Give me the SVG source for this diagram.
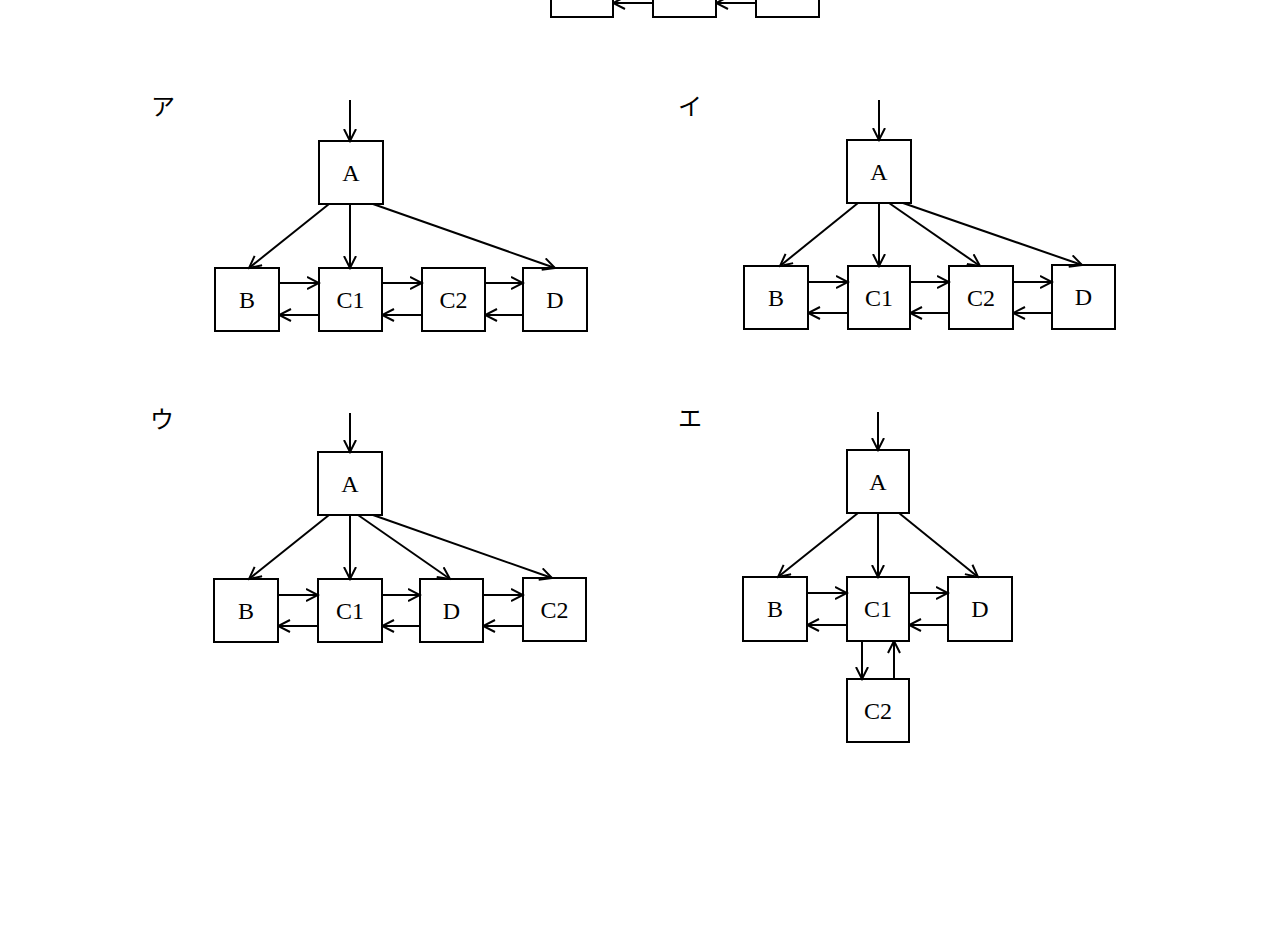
<svg xmlns="http://www.w3.org/2000/svg" width="1288" height="952" viewBox="0 0 1288 952">
<defs>
<style>
.box{fill:#fff;stroke:#000;stroke-width:2}
.lbl{font-family:"Liberation Serif","DejaVu Serif",serif;font-size:24px;text-anchor:middle;fill:#000}
.jp{font-family:"Noto Sans CJK JP",sans-serif;font-size:24px;fill:#000}
.cn line{stroke:#000;stroke-width:2;marker-end:url(#arr)}
</style>
<marker id="arr" markerWidth="14" markerHeight="14" refX="12.5" refY="7" orient="auto" markerUnits="userSpaceOnUse">
<path d="M0.5,1 L12.5,7 L0.5,13" fill="none" stroke="#000" stroke-width="2"/>
</marker>
</defs>
<rect width="1288" height="952" fill="#fff"/>

<!-- top partial row -->
<g id="top">
<rect class="box" x="551" y="-46" width="62" height="63"/>
<rect class="box" x="653" y="-46" width="63" height="63"/>
<rect class="box" x="756" y="-46" width="63" height="63"/>
</g>

<!-- labels -->
<text class="jp" x="151" y="115">ア</text>
<text class="jp" x="678" y="115">イ</text>
<text class="jp" x="150" y="428">ウ</text>
<text class="jp" x="678" y="427">エ</text>

<!-- ア -->
<g id="a-A"><rect class="box" x="319" y="141" width="64" height="63"/><text class="lbl" x="351" y="181">A</text></g>
<g id="a-B"><rect class="box" x="215" y="268" width="64" height="63"/><text class="lbl" x="247" y="308">B</text></g>
<g id="a-C1"><rect class="box" x="319" y="268" width="63" height="63"/><text class="lbl" x="350.5" y="308">C1</text></g>
<g id="a-C2"><rect class="box" x="422" y="268" width="63" height="63"/><text class="lbl" x="453.5" y="308">C2</text></g>
<g id="a-D"><rect class="box" x="523" y="268" width="64" height="63"/><text class="lbl" x="555" y="308">D</text></g>

<!-- イ -->
<g id="i-A"><rect class="box" x="847" y="140" width="64" height="63"/><text class="lbl" x="879" y="180">A</text></g>
<g id="i-B"><rect class="box" x="744" y="266" width="64" height="63"/><text class="lbl" x="776" y="306">B</text></g>
<g id="i-C1"><rect class="box" x="848" y="266" width="62" height="63"/><text class="lbl" x="879" y="306">C1</text></g>
<g id="i-C2"><rect class="box" x="949" y="266" width="64" height="63"/><text class="lbl" x="981" y="306">C2</text></g>
<g id="i-D"><rect class="box" x="1052" y="265" width="63" height="64"/><text class="lbl" x="1083.5" y="305">D</text></g>

<!-- ウ -->
<g id="u-A"><rect class="box" x="318" y="452" width="64" height="63"/><text class="lbl" x="350" y="492">A</text></g>
<g id="u-B"><rect class="box" x="214" y="579" width="64" height="63"/><text class="lbl" x="246" y="619">B</text></g>
<g id="u-C1"><rect class="box" x="318" y="579" width="64" height="63"/><text class="lbl" x="350" y="619">C1</text></g>
<g id="u-D"><rect class="box" x="420" y="579" width="63" height="63"/><text class="lbl" x="451.5" y="619">D</text></g>
<g id="u-C2"><rect class="box" x="523" y="578" width="63" height="63"/><text class="lbl" x="554.5" y="618">C2</text></g>

<!-- エ -->
<g id="e-A"><rect class="box" x="847" y="450" width="62" height="63"/><text class="lbl" x="878" y="490">A</text></g>
<g id="e-B"><rect class="box" x="743" y="577" width="64" height="64"/><text class="lbl" x="775" y="617">B</text></g>
<g id="e-C1"><rect class="box" x="847" y="577" width="62" height="64"/><text class="lbl" x="878" y="617">C1</text></g>
<g id="e-D"><rect class="box" x="948" y="577" width="64" height="64"/><text class="lbl" x="980" y="617">D</text></g>
<g id="e-C2"><rect class="box" x="847" y="679" width="62" height="63"/><text class="lbl" x="878" y="719">C2</text></g>

<g id="connectors" class="cn">
<!-- top -->
<line x1="653" y1="3" x2="613" y2="3"/>
<line x1="756" y1="3" x2="716" y2="3"/>
<!-- ア -->
<line x1="350" y1="100" x2="350" y2="141"/>
<line x1="329" y1="204" x2="249" y2="268"/>
<line x1="350" y1="204" x2="350" y2="268"/>
<line x1="373" y1="204" x2="555" y2="268"/>
<line x1="279" y1="283" x2="319" y2="283"/>
<line x1="382" y1="283" x2="422" y2="283"/>
<line x1="485" y1="283" x2="523" y2="283"/>
<line x1="319" y1="315" x2="279" y2="315"/>
<line x1="422" y1="315" x2="382" y2="315"/>
<line x1="523" y1="315" x2="485" y2="315"/>
<!-- イ -->
<line x1="879" y1="100" x2="879" y2="140"/>
<line x1="858" y1="203" x2="780" y2="266"/>
<line x1="879" y1="203" x2="879" y2="266"/>
<line x1="889" y1="203" x2="980" y2="266"/>
<line x1="903" y1="203" x2="1082" y2="265"/>
<line x1="808" y1="282" x2="848" y2="282"/>
<line x1="910" y1="282" x2="949" y2="282"/>
<line x1="1013" y1="282" x2="1052" y2="282"/>
<line x1="848" y1="313" x2="808" y2="313"/>
<line x1="949" y1="313" x2="910" y2="313"/>
<line x1="1052" y1="313" x2="1013" y2="313"/>
<!-- ウ -->
<line x1="350" y1="413" x2="350" y2="452"/>
<line x1="329" y1="515" x2="249" y2="579"/>
<line x1="350" y1="515" x2="350" y2="579"/>
<line x1="358" y1="515" x2="450" y2="579"/>
<line x1="373" y1="515" x2="552" y2="578"/>
<line x1="278" y1="595" x2="318" y2="595"/>
<line x1="382" y1="595" x2="420" y2="595"/>
<line x1="483" y1="595" x2="523" y2="595"/>
<line x1="318" y1="626" x2="278" y2="626"/>
<line x1="420" y1="626" x2="382" y2="626"/>
<line x1="523" y1="626" x2="483" y2="626"/>
<!-- エ -->
<line x1="878" y1="412" x2="878" y2="450"/>
<line x1="858" y1="513" x2="778" y2="577"/>
<line x1="878" y1="513" x2="878" y2="577"/>
<line x1="899" y1="513" x2="978" y2="577"/>
<line x1="807" y1="593" x2="847" y2="593"/>
<line x1="909" y1="593" x2="948" y2="593"/>
<line x1="847" y1="625" x2="807" y2="625"/>
<line x1="948" y1="625" x2="909" y2="625"/>
<line x1="862" y1="641" x2="862" y2="679"/>
<line x1="894" y1="679" x2="894" y2="641"/>
</g>
</svg>
